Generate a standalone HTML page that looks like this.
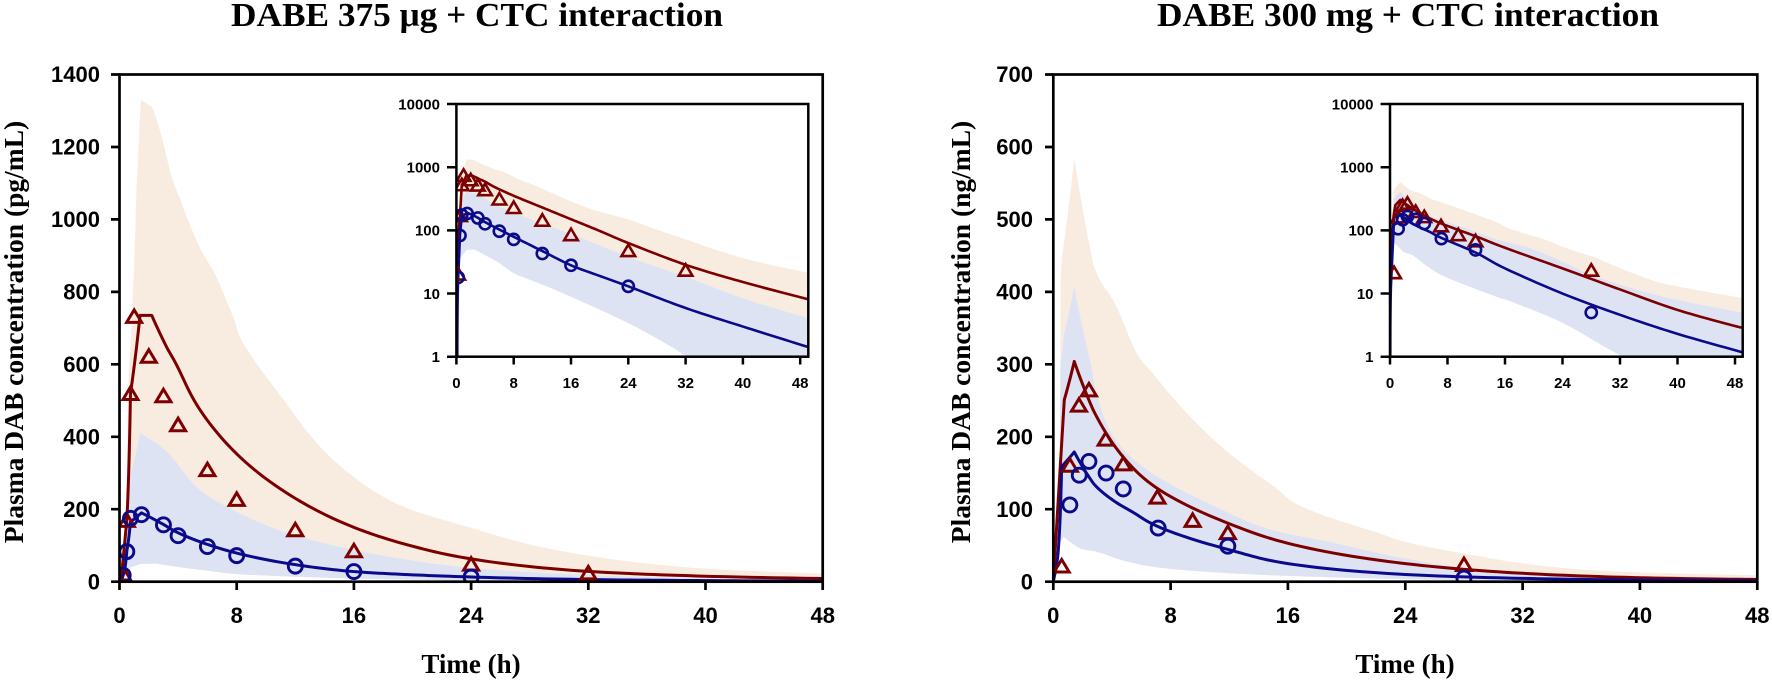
<!DOCTYPE html>
<html><head><meta charset="utf-8">
<style>
html,body{margin:0;padding:0;background:#fff;}
svg{display:block;}
.ax{fill:none;stroke:#000;stroke-width:2.7;}
.ia{fill:none;stroke:#000;stroke-width:2.5;}
.tk{font-family:"Liberation Sans",Arial,sans-serif;font-weight:bold;font-size:22px;fill:#000;}
.itk{font-family:"Liberation Sans",Arial,sans-serif;font-weight:bold;font-size:15px;fill:#000;}
.ser{font-family:"Liberation Serif","Times New Roman",serif;font-weight:bold;fill:#000;}
</style></head>
<body>
<svg id="s" width="1772" height="681" viewBox="0 0 1772 681" xmlns="http://www.w3.org/2000/svg">
<defs>
<clipPath id="cL"><rect x="119.5" y="74.5" width="703.2" height="507.2"/></clipPath>
<clipPath id="cR"><rect x="1053.3" y="74.5" width="704" height="507.2"/></clipPath>
<clipPath id="ciL"><rect x="456.4" y="104" width="351.9" height="252.7"/></clipPath>
<clipPath id="ciR"><rect x="1390" y="104" width="352.7" height="252.7"/></clipPath>
</defs>
<rect width="1772" height="681" fill="#fff"/>

<!-- Titles -->
<text class="ser" x="477" y="26" font-size="34" text-anchor="middle" textLength="492" lengthAdjust="spacingAndGlyphs">DABE 375 μg + CTC interaction</text>
<text class="ser" x="1408" y="26" font-size="34" text-anchor="middle" textLength="502" lengthAdjust="spacingAndGlyphs">DABE 300 mg + CTC interaction</text>

<!-- Y axis titles -->
<text class="ser" font-size="27.5" text-anchor="middle" transform="translate(23,332) rotate(-90)">Plasma DAB concentration (pg/mL)</text>
<text class="ser" font-size="27.5" text-anchor="middle" transform="translate(970,332) rotate(-90)">Plasma DAB concentration (ng/mL)</text>

<!-- X axis titles -->
<text class="ser" font-size="27" x="471" y="673" text-anchor="middle">Time (h)</text>
<text class="ser" font-size="27" x="1405" y="673" text-anchor="middle">Time (h)</text>

<!-- plot content groups -->
<g id="gL" clip-path="url(#cL)"></g>
<g id="gR" clip-path="url(#cR)"></g>

<!-- Left main axes -->
<rect class="ax" x="119.5" y="74.5" width="703.2" height="507.2"/>
<path class="ax" d="M111,581.7H119.5M111,509.2H119.5M111,436.8H119.5M111,364.3H119.5M111,291.9H119.5M111,219.4H119.5M111,147H119.5M111,74.5H119.5
M119.5,581.7V590M236.7,581.7V590M353.9,581.7V590M471.1,581.7V590M588.3,581.7V590M705.5,581.7V590M822.7,581.7V590"/>
<g class="tk" text-anchor="end">
<text x="100" y="589.3">0</text>
<text x="100" y="516.8">200</text>
<text x="100" y="444.4">400</text>
<text x="100" y="371.9">600</text>
<text x="100" y="299.5">800</text>
<text x="100" y="227">1000</text>
<text x="100" y="154.6">1200</text>
<text x="100" y="82.1">1400</text>
</g>
<g class="tk" text-anchor="middle">
<text x="119.5" y="623">0</text>
<text x="236.7" y="623">8</text>
<text x="353.9" y="623">16</text>
<text x="471.1" y="623">24</text>
<text x="588.3" y="623">32</text>
<text x="705.5" y="623">40</text>
<text x="822.7" y="623">48</text>
</g>

<!-- Right main axes -->
<rect class="ax" x="1053.3" y="74.5" width="704" height="507.2"/>
<path class="ax" d="M1045,581.7H1053.3M1045,509.2H1053.3M1045,436.8H1053.3M1045,364.3H1053.3M1045,291.9H1053.3M1045,219.4H1053.3M1045,147H1053.3M1045,74.5H1053.3
M1053.3,581.7V590M1170.6,581.7V590M1287.9,581.7V590M1405.3,581.7V590M1522.6,581.7V590M1639.9,581.7V590M1757.3,581.7V590"/>
<g class="tk" text-anchor="end">
<text x="1033" y="589.3">0</text>
<text x="1033" y="516.8">100</text>
<text x="1033" y="444.4">200</text>
<text x="1033" y="371.9">300</text>
<text x="1033" y="299.5">400</text>
<text x="1033" y="227">500</text>
<text x="1033" y="154.6">600</text>
<text x="1033" y="82.1">700</text>
</g>
<g class="tk" text-anchor="middle">
<text x="1053.3" y="623">0</text>
<text x="1170.6" y="623">8</text>
<text x="1287.9" y="623">16</text>
<text x="1405.3" y="623">24</text>
<text x="1522.6" y="623">32</text>
<text x="1639.9" y="623">40</text>
<text x="1757.3" y="623">48</text>
</g>

<!-- Left inset -->
<rect x="456.4" y="104" width="351.9" height="252.7" fill="#fff"/>
<g id="giL" clip-path="url(#ciL)"></g>
<rect class="ia" x="456.4" y="104" width="351.9" height="252.7"/>
<path class="ia" d="M447,104H456.4M447,167.2H456.4M447,230.4H456.4M447,293.5H456.4M447,356.7H456.4
M456.4,356.7V364.5M513.7,356.7V364.5M571,356.7V364.5M628.3,356.7V364.5M685.6,356.7V364.5M742.9,356.7V364.5M800.2,356.7V364.5"/>
<g class="itk" text-anchor="end">
<text x="440" y="109.3">10000</text>
<text x="440" y="172.5">1000</text>
<text x="440" y="235.7">100</text>
<text x="440" y="298.8">10</text>
<text x="440" y="362">1</text>
</g>
<g class="itk" text-anchor="middle">
<text x="456.4" y="388">0</text>
<text x="513.7" y="388">8</text>
<text x="571" y="388">16</text>
<text x="628.3" y="388">24</text>
<text x="685.6" y="388">32</text>
<text x="742.9" y="388">40</text>
<text x="800.2" y="388">48</text>
</g>

<!-- Right inset -->
<rect x="1390" y="104" width="352.7" height="252.7" fill="#fff"/>
<g id="giR" clip-path="url(#ciR)"></g>
<rect class="ia" x="1390" y="104" width="352.7" height="252.7"/>
<path class="ia" d="M1380.6,104H1390M1380.6,167.2H1390M1380.6,230.4H1390M1380.6,293.5H1390M1380.6,356.7H1390
M1390,356.7V364.5M1447.5,356.7V364.5M1505,356.7V364.5M1562.5,356.7V364.5M1620,356.7V364.5M1677.5,356.7V364.5M1735,356.7V364.5"/>
<g class="itk" text-anchor="end">
<text x="1373.5" y="109.3">10000</text>
<text x="1373.5" y="172.5">1000</text>
<text x="1373.5" y="235.7">100</text>
<text x="1373.5" y="298.8">10</text>
<text x="1373.5" y="362">1</text>
</g>
<g class="itk" text-anchor="middle">
<text x="1390" y="388">0</text>
<text x="1447.5" y="388">8</text>
<text x="1505" y="388">16</text>
<text x="1562.5" y="388">24</text>
<text x="1620" y="388">32</text>
<text x="1677.5" y="388">40</text>
<text x="1735" y="388">48</text>
</g>
</svg>

<script>
(function(){
var NS="http://www.w3.org/2000/svg";
var OR="#f8ece0", BL="#dde3f3", RED="#7d0000", NAVY="#0a0a8a";
var A={
 L:{x0:119.5,sx:117.2/8,y0:581.7,sy:507.2/1400,log:false,main:true},
 R:{x0:1053.3,sx:117.33/8,y0:581.7,sy:507.2/700,log:false,main:true},
 iL:{x0:456.4,sx:57.3/8,y0:356.7,sd:63.17,log:true,main:false},
 iR:{x0:1390,sx:57.5/8,y0:356.7,sd:63.17,log:true,main:false}
};
function X(a,t){return a.x0+t*a.sx;}
function Y(a,c){ if(a.log){var v=c>0?Math.log10(c):-3; if(v<-3)v=-3; return a.y0-v*a.sd;} return a.y0-c*a.sy;}
function dens(p){
 var o=[p[0]], n=p.length, mx=-1, im=0;
 for(var j=0;j<n;j++){ if(p[j][1]>=mx){mx=p[j][1];im=j;} }
 for(var i=1;i<n;i++){
  var t0=p[i-1][0],c0=p[i-1][1],t1=p[i][0],c1=p[i][1],N=14;
  var smooth=(i-1>im) && c0>0 && c1>0 && p[i-2][1]>0;
  var pa=p[i-2], pb=p[Math.min(i+1,n-1)];
  for(var k=1;k<=N;k++){
   var f=k/N,t,c;
   if(smooth){
    // Catmull-Rom in (t, log c)
    var P0=[pa[0],Math.log(pa[1])],P1=[t0,Math.log(c0)],P2=[t1,Math.log(c1)],P3=[pb[0],Math.log(pb[1]>0?pb[1]:c1)];
    if(i+1>n-1){P3=[2*P2[0]-P1[0],2*P2[1]-P1[1]];}
    var f2=f*f,f3=f2*f;
    var b0=-0.5*f3+f2-0.5*f, b1=1.5*f3-2.5*f2+1, b2=-1.5*f3+2*f2+0.5*f, b3=0.5*f3-0.5*f2;
    t=b0*P0[0]+b1*P1[0]+b2*P2[0]+b3*P3[0];
    c=Math.exp(b0*P0[1]+b1*P1[1]+b2*P2[1]+b3*P3[1]);
   } else {
    t=t0+(t1-t0)*f;
    c=(c0>0&&c1>0)?c0*Math.pow(c1/c0,f):c0+(c1-c0)*f;
   }
   o.push([t,c]);
  }
 }
 return o;
}
function pstr(a,pts){return pts.map(function(p,i){return (i?"L":"M")+X(a,p[0]).toFixed(2)+","+Y(a,p[1]).toFixed(2);}).join("");}
function el(g,tag,attrs){var e=document.createElementNS(NS,tag);for(var k in attrs)e.setAttribute(k,attrs[k]);g.appendChild(e);return e;}
function band(g,a,up,lo,col){var pts=dens(up).concat(dens(lo).reverse());el(g,"path",{d:pstr(a,pts)+"Z",fill:col,stroke:"none"});}
function line(g,a,p,col,w){el(g,"path",{d:pstr(a,dens(p)),fill:"none",stroke:col,"stroke-width":w,"stroke-linejoin":"round","stroke-linecap":"round"});}
function tris(g,a,p,col,big){var hw=big?7.5:6.8,up=big?7:6.5,dn=big?5.5:5,sw=big?3:2.6;
 p.forEach(function(q){var x=X(a,q[0]),y=Y(a,q[1]);
 el(g,"path",{d:"M"+x+","+(y-up)+"L"+(x+hw)+","+(y+dn)+"L"+(x-hw)+","+(y+dn)+"Z",fill:"none",stroke:col,"stroke-width":sw,"stroke-linejoin":"miter"});});}
function circs(g,a,p,col,big){var r=big?7:5.6,sw=big?2.9:2.6;
 p.forEach(function(q){el(g,"circle",{cx:X(a,q[0]),cy:Y(a,q[1]),r:r,fill:"none",stroke:col,"stroke-width":sw});});}

/* ---------- Left dataset (375 ug) ---------- */
var L={
 redSim:[[0.1,0],[0.5,170],[0.75,520],[1.4,735],[2.2,735],[3.2,649],[4,590],[5.5,474],[8.2,345],[12,230],[16,150],[20,98],[24,63],[32,28.5],[40,15.2],[49.3,8]],
 bluSim:[[0.1,0],[0.25,18],[0.5,85],[0.75,165],[1.5,190],[2,180],[3,158],[4,135],[6,103],[8,79],[12,47],[16,28],[20,19],[24,13],[32,5.9],[40,3.0],[49.3,1.4]],
 orUp:[[0.4,0],[0.6,550],[0.95,824],[1.17,1100],[1.45,1330],[2.2,1311],[2.88,1228],[3.56,1118],[4.2,1049],[5.45,925],[6.6,842],[7.76,731],[8.45,658],[11.2,502],[14.6,336],[19.1,212],[23.9,150],[28.3,100],[32.8,67],[37.3,45],[41.9,32],[49.3,21]],
 blUp:[[0.33,0],[0.4,40],[0.5,260],[1.4,410],[2.55,382],[3.66,340],[5.5,253],[7.75,198],[11.2,138],[14.6,100],[19.1,64],[24,38],[32,18.4],[40,8.4],[49.3,4]],
 blLo:[[0.33,0],[0.4,35],[1.4,49],[2.5,50],[5.5,33],[8,21],[10,17],[15,10],[24,3.4],[30,1.44],[33,0.9],[40,0.4],[49.3,0.15]],
 tri:[[0.25,20],[0.5,168],[0.75,518],[1,731],[2,621],[3,512],[4,432],[6,308],[8,226],[12,142],[16,84],[24,47],[32,23]],
 cir:[[0.25,18],[0.5,83],[0.75,175],[1.5,185],[3,157],[4,127],[6,97],[8,72],[12,43],[16,28],[24,13]]
};
/* ---------- Right dataset (300 mg) ---------- */
var R={
 redSim:[[0,0],[0.75,251],[1.43,304],[2.72,237],[4.77,172],[7.15,128],[12,80],[16,53],[24,25],[32,11.6],[40,5.5],[48,3.06],[49.3,2.9]],
 bluSim:[[0,0],[0.2,20],[0.57,159],[1.43,179],[2.72,136],[4.1,112],[5.5,95],[7.15,76],[12,44],[16,25],[24,10],[32,4.6],[40,2.3],[49.3,1.15]],
 orUp:[[0.4,0],[0.5,420],[0.6,449],[1.43,584],[2.72,439],[4.3,380],[5.7,315],[7.04,281],[10.2,210],[14.8,135],[16.8,105],[21.6,71],[24,55],[28.5,37],[32.9,23],[37.5,15],[42.6,11.4],[49.3,8.4]],
 blUp:[[0.4,0],[0.5,300],[0.75,343],[1.43,407],[2.5,306],[2.95,260],[4.1,200],[6.36,155],[10.9,105],[14.8,72],[19.5,52],[24,32],[28.7,18.4],[38,8.9],[49.3,4.9]],
 blLo:[[0.4,0],[0.46,55],[0.7,62],[1.82,46],[3.2,40],[5.2,27],[7.85,18],[14.8,8.9],[16.8,7.5],[24.1,3.4],[32.4,1.0],[40,0.45],[49.3,0.2]],
 tri:[[0.57,21],[1.13,160],[1.75,243],[2.43,264],[3.57,196],[4.77,162],[7.1,116],[9.5,84],[11.9,67],[28,23]],
 cir:[[1.13,106],[1.77,147],[2.43,166],[3.6,150],[4.77,128],[7.15,74],[11.9,49],[28,5]]
};
function draw(gid,a,D){var g=document.getElementById(gid),big=a.main,lw=big?3:2.6;
 band(g,a,D.orUp,D.blLo,OR);
 band(g,a,D.blUp,D.blLo,BL);
 line(g,a,D.redSim,RED,lw);
 line(g,a,D.bluSim,NAVY,lw);
 tris(g,a,D.tri,RED,big);
 circs(g,a,D.cir,NAVY,big);
}
draw("gL",A.L,L);
draw("giL",A.iL,L);
draw("gR",A.R,R);
draw("giR",A.iR,R);
})();
</script>
</body></html>
